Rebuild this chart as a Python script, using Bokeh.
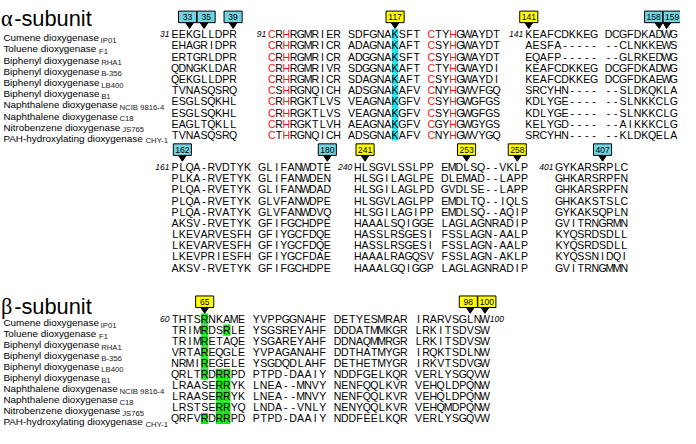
from bokeh.plotting import figure
from bokeh.models import ColumnDataSource, Range1d
from bokeh.embed import file_html
from bokeh.resources import INLINE
from bokeh.core.properties import value

# ---------------- data ----------------
protein_names = ["Cumene dioxygenase", "Toluene dioxygenase", "Biphenyl dioxygenase",
                 "Biphenyl dioxygenase", "Biphenyl dioxygenase", "Biphenyl dioxygenase",
                 "Naphthalene dioxygenase", "Naphthalene dioxygenase",
                 "Nitrobenzene dioxygenase", "PAH-hydroxylating dioxygenase"]
strain_labels = ["IP01", "F1", "RHA1", "B-356", "LB400", "B1", "NCIB 9816-4", "C18", "JS765", "CHY-1"]

alpha1_seg_a = ["EEKGLLDPR", "EHAGRIDPR", "ERTGRLDPR", "QDNGKLDAR", "QEKGLLDPR",
                "TVNASQSRQ", "ESGLSQKHL", "ESGLSQKHL", "EAGLTQKLL", "TVNASQSRQ"]
alpha1_seg_b = ["CRHRGMRIER SDFGNAKSFT CTYHGWAYDT",
                "CRHRGMRICR ADAGNAKAFT CSYHGWAYDT",
                "CRHRGMRICR ADGGNAKSFT CSYHGWAYDT",
                "CRHRGMRIVR SDGGNAKAFT CTYHGWAYDI",
                "CRHRGMRICR SDAGNAKAFT CSYHGWAYDI",
                "CSHRGNQICH ADSGNAKAFV CNYHGWVFGQ",
                "CRHRGKTLVS VEAGNAKGFV CSYHGWGFGS",
                "CRHRGKTLVS VEAGNAKGFV CSYHGWGFGS",
                "CRHRGKTLVH AEAGNAKGFV CGYHGWGYGS",
                "CTHRGNQICH ADSGNAKAFV CNYHGWVYGQ"]
alpha1_seg_c = ["KEAFCDKKEG DCGFDKADWG", "AESFA----- --CLNKKEWS", "EQAFP----- --GLRKEDWG",
                "KEAFCDKKEG DCGFDKADWG", "KEAFCDKKEG DCGFDKAEWG", "SRCYHN---- --SLDKQKLA",
                "KDLYGE---- --SLNKKCLG", "KDLYGE---- --SLNKKCLG", "KELYGD---- --AIKKKCLG",
                "SRCYHN---- --KLDKQELA"]

alpha2_seg_a = ["PLQA-RVDTYK GLIFANWDTE", "PLKA-RVETYK GLIFANWDEN", "PLQA-RVETYK GLIFANWDAD",
                "PLQA-RVETYK GLVFANWDPE", "PLQA-RVATYK GLVFANWDVQ", "AKSV-RVETYK GFIFGCHDPE",
                "LKEVARVESFH GFIYGCFDQE", "LKEVARVESFH GFIYGCFDQE", "LKEVPRIESFH GFIYGCFDAE",
                "AKSV-RVETYK GFIFGCHDPE"]
alpha2_seg_b = ["HLSGVLSSLPP EMDLSQ--VKLP", "HLSGILAGLPE DLEMAD--LAPP", "HLSGILAGLPD GVDLSE--LAPP",
                "HLSGVLAGLPP EMDLTQ--IQLS", "HLSGILAGIPP EMDLSQ--AQIP", "HAAALSQIGGE LAGLAGNRADIP",
                "HASSLRSGESI FSSLAGN-AALP", "HASSLRSGESI FSSLAGN-AALP", "HAAALRAGQSV FSSLAGN-AKLP",
                "HAAALGQIGGP LAGLAGNRADIP"]
alpha2_seg_c = ["GYKARSRPLC", "GHKARSRPFN", "GHKARSRPFN", "GHKAKSTSLC", "GYKAKSQPLN",
                "GVITRNGRMN", "KYQSRDSDLL", "KYQSRDSDLL", "KYQSSNIDQI", "GVITRNGMMN"]

beta_seq = ["THTSRNKAME YVPPGGNAHF DETYESMRAR IRARVSGLNW",
            "TRIMRDSRLE YSGSREYAHF DDDATMMKGR LRKITSDVSW",
            "TRIMRETAQE YSGAREYAHF DDNAQMMRGR LRKITSDVSW",
            "VRTAREQGLE YVPAGANAHF DDTHATMYGR IRQKTSDLNW",
            "NRMIREGELE YSGDQDLAHF DETHETMYGR IRKVTSDVGW",
            "QRLTRDRRPD PTPD-DAAIY NDDFGELKQR VERLYSGQVW",
            "LRAASERRYK LNEA--MNVY NENFQQLKVR VEHQLDPQNW",
            "LRAASERRYK LNEA--MNVY NENFQQLKVR VEHQLDPQNW",
            "LRSTSERRYQ LNDA--VNLY NENYQQLKVR VEHQMDPQNW",
            "QRFVRDRRPD PTPD-DAAIY NDDFEELKQR VERLYSGQVW"]

alpha1_starts = ["31", "91", "141"]
alpha2_starts = ["161", "240", "401"]
beta_starts = ["60"]
beta_end = "100"

# markers: (label, segment, column, colour kind)
alpha1_markers = [("33", 0, 2, "c"), ("35", 0, 4, "c"), ("39", 0, 8, "c"), ("117", 1, 17, "y"),
                  ("141", 2, 0, "y"), ("158", 2, 18, "c"), ("159", 2, 19, "c")]
alpha2_markers = [("162", 0, 1, "c"), ("180", 0, 21, "c"), ("241", 1, 1, "y"),
                  ("253", 1, 15, "y"), ("258", 1, 22, "y"), ("407", 2, 6, "c")]
beta_markers = [("65", 0, 4, "y"), ("98", 0, 40, "y"), ("100", 0, 42, "y")]

alpha1_red_cols = {1: [0, 2, 22, 25]}
alpha1_cyan_cols = {1: [17]}
beta_green_cols = [[4], [4, 7], [4], [4], [4], [4, 6, 7], [6, 7], [6, 7], [6, 7], [4, 6, 7]]

# ---------------- layout / style ----------------
REF_W, REF_H = 696, 444
FIG_W, FIG_H = 680, 428
SF = 0.97
SANS = "Liberation Sans"
SERIF = "Liberation Serif"
RED = "#ee1414"
CYAN_BOX = "#72d4e0"
CYAN_HL = "#22e2ec"
YELLOW = "#ffff00"
GREEN = "#22e022"
ROW_DY = 11.6
BETA_DY = 11.45
NAME_X = 3
NAME_FS = 10.2
SUB_FS = 8.0
SEQ_FS = 10.9
NUM_FS = 8.8
BOX_FS = 8.8
BOX_W, BOX_H = 18.5, 12.0

ARIAL = {' ': 278, '-': 333, 'A': 667, 'B': 667, 'C': 722, 'H': 722, 'N': 722, 'P': 667,
         'T': 611, 'a': 556, 'b': 556, 'c': 500, 'd': 556, 'e': 556, 'g': 556, 'h': 556,
         'i': 222, 'l': 222, 'm': 833, 'n': 556, 'o': 556, 'p': 556, 'r': 333, 's': 500,
         't': 278, 'u': 556, 'x': 500, 'y': 500, 'z': 500}


def tw(s, fs):
    return sum(ARIAL.get(ch, 556) for ch in s) / 1000.0 * fs


def fpx(v):
    return f"{v * SF:.2f}px"


blocks = [
    dict(segs=[alpha1_seg_a, alpha1_seg_b, alpha1_seg_c], x0=[175, 274, 537], y0=35.0, dy=ROW_DY,
         pitch=7.42, starts=alpha1_starts, markers=alpha1_markers,
         red=alpha1_red_cols, cyan=alpha1_cyan_cols, green=None, names=True),
    dict(segs=[alpha2_seg_a, alpha2_seg_b, alpha2_seg_c], x0=[175, 362, 568], y0=172.7, dy=ROW_DY,
         pitch=7.42, starts=alpha2_starts, markers=alpha2_markers,
         red={}, cyan={}, green=None, names=False),
    dict(segs=[beta_seq], x0=[175], y0=330.5, dy=BETA_DY, pitch=7.55, starts=beta_starts,
         markers=beta_markers, red={}, cyan={}, green=beta_green_cols, names=True),
]

p = figure(width=FIG_W, height=FIG_H, x_range=Range1d(0, REF_W), y_range=Range1d(REF_H, 0),
           output_backend="svg", toolbar_location=None, min_border=0)
p.title.visible = False
p.axis.visible = False
p.grid.visible = False
p.outline_line_color = None
p.background_fill_color = "white"

seq = dict(x=[], y=[], t=[], c=[])
hl = dict(x=[], y=[], w=[], h=[], c=[])
nums = dict(x=[], y=[], t=[])
names = dict(x=[], y=[], t=[])
subs = dict(x=[], y=[], t=[])
boxes = dict(x=[], y=[], c=[], t=[], ty=[])
tris = dict(xs=[], ys=[])

for b in blocks:
    pitch = b["pitch"]
    dy = b["dy"]
    for si, seg in enumerate(b["segs"]):
        x0 = b["x0"][si]
        for ri, row in enumerate(seg):
            y = b["y0"] + ri * dy
            for ci, ch in enumerate(row):
                if ch == " ":
                    continue
                cx = x0 + ci * pitch + pitch / 2
                col = RED if ci in b["red"].get(si, []) else "black"
                seq["x"].append(cx); seq["y"].append(y); seq["t"].append(ch); seq["c"].append(col)
                if ci in b["cyan"].get(si, []):
                    hl["x"].append(cx); hl["y"].append(y); hl["w"].append(pitch - 0.6)
                    hl["h"].append(dy); hl["c"].append(CYAN_HL)
                if b["green"] is not None and ci in b["green"][ri]:
                    hl["x"].append(cx); hl["y"].append(y); hl["w"].append(pitch)
                    hl["h"].append(dy); hl["c"].append(GREEN)
        nums["x"].append(x0 - 2); nums["y"].append(b["y0"]); nums["t"].append(b["starts"][si])
    if b["names"]:
        for ri, (nm, st) in enumerate(zip(protein_names, strain_labels)):
            y = b["y0"] + ri * dy
            names["x"].append(NAME_X); names["y"].append(y + 0.36 * NAME_FS); names["t"].append(nm)
            subs["x"].append(NAME_X + tw(nm, NAME_FS) + 0.8)
            subs["y"].append(y + 0.36 * NAME_FS + 2.6)
            subs["t"].append(st)
    # markers
    ms = []
    for lab, si, ci, kind in b["markers"]:
        cx = b["x0"][si] + ci * pitch + pitch / 2
        ms.append([cx, cx, lab, kind])
    ms.sort(key=lambda m: m[0])
    for i in range(1, len(ms)):
        d = ms[i][1] - ms[i - 1][1]
        if d < BOX_W + 0.5:
            ov = BOX_W + 0.5 - d
            ms[i - 1][1] -= ov / 2
            ms[i][1] += ov / 2
    box_cy = b["y0"] - 12 - BOX_H / 2
    box_bot = b["y0"] - 12
    tip = b["y0"] - 6
    for cx, bx, lab, kind in ms:
        boxes["x"].append(bx); boxes["y"].append(box_cy)
        boxes["c"].append(CYAN_BOX if kind == "c" else YELLOW)
        boxes["t"].append(lab); boxes["ty"].append(box_cy)
        base = min(max(cx, bx - BOX_W / 2 + 4), bx + BOX_W / 2 - 4)
        tris["xs"].append([base - 4, base + 4, cx])
        tris["ys"].append([box_bot, box_bot, tip])

# highlight cells
p.rect(x="x", y="y", width="w", height="h", fill_color="c", line_color=None,
       source=ColumnDataSource(hl))
# sequence letters
p.text(x="x", y="y", text="t", text_color="c", source=ColumnDataSource(seq),
       text_font=value(SANS), text_font_size=value(fpx(SEQ_FS)),
       text_align="center", text_baseline="middle")
# start numbers
p.text(x="x", y="y", text="t", source=ColumnDataSource(nums), text_font=value(SANS),
       text_font_style="italic", text_font_size=value(fpx(NUM_FS)),
       text_align="right", text_baseline="middle", text_color="black")
# end number of beta block
bp = blocks[2]
p.text(x=[bp["x0"][0] + len(beta_seq[0]) * bp["pitch"] + 1], y=[bp["y0"]], text=[beta_end],
       text_font=value(SANS), text_font_style="italic", text_font_size=value(fpx(NUM_FS)),
       text_align="left", text_baseline="middle", text_color="black")
# names
p.text(x="x", y="y", text="t", source=ColumnDataSource(names), text_font=value(SANS),
       text_font_size=value(fpx(NAME_FS)), text_align="left", text_baseline="alphabetic",
       text_color="black")
p.text(x="x", y="y", text="t", source=ColumnDataSource(subs), text_font=value(SANS),
       text_font_size=value(fpx(SUB_FS)), text_align="left", text_baseline="alphabetic",
       text_color="#222222")
# markers
p.patches(xs="xs", ys="ys", source=ColumnDataSource(tris), fill_color="black", line_color="black")
p.rect(x="x", y="y", width=BOX_W, height=BOX_H, fill_color="c", line_color="black",
       line_width=1, source=ColumnDataSource(boxes))
p.text(x="x", y="ty", text="t", source=ColumnDataSource(boxes), text_font=value(SANS),
       text_font_size=value(fpx(BOX_FS)), text_align="center", text_baseline="middle",
       text_color="black")
# titles
titles = [("\u03b1", 18.5), ("\u03b2", 317.5)]
p.text(x=[0.5, 0.5], y=[t[1] for t in titles], text=[t[0] for t in titles],
       text_font=value(SERIF), text_font_size=value(fpx(23)), text_align="left",
       text_baseline="alphabetic", text_color="black")
p.text(x=[14, 14], y=[t[1] for t in titles], text=["-subunit", "-subunit"],
       text_font=value(SANS), text_font_size=value(fpx(22.5)), text_align="left",
       text_baseline="alphabetic", text_color="black")

open("out.html", "w").write(file_html(p, INLINE))
